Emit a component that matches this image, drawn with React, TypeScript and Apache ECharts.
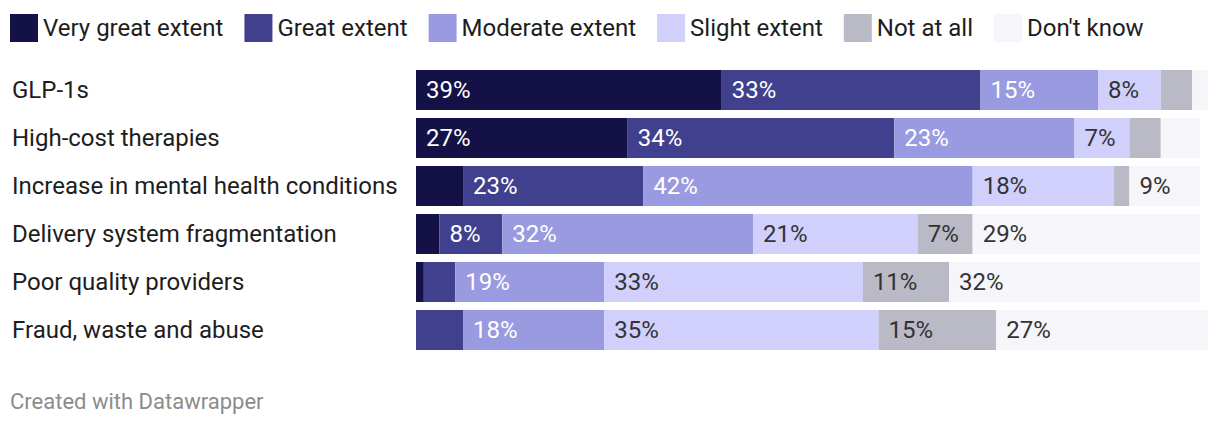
import React, { useEffect, useRef } from "react";
import * as echarts from "echarts";

const categories = [
  "GLP-1s",
  "High-cost therapies",
  "Increase in mental health conditions",
  "Delivery system fragmentation",
  "Poor quality providers",
  "Fraud, waste and abuse",
];

const seriesNames = [
  "Very great extent",
  "Great extent",
  "Moderate extent",
  "Slight extent",
  "Not at all",
  "Don't know",
];

const veryGreat = [39, 27, 6, 3, 1, 0];
const great = [33, 34, 23, 8, 4, 6];
const moderate = [15, 23, 42, 32, 19, 18];
const slight = [8, 7, 18, 21, 33, 35];
const notAtAll = [4, 4, 2, 7, 11, 15];
const dontKnow = [2, 5, 9, 29, 32, 27];

const seriesValues = [veryGreat, great, moderate, slight, notAtAll, dontKnow];

const colors = ["#141146", "#41408f", "#9a9ae0", "#d1cffb", "#bab9c6", "#f5f5fa"];
const labelColors = ["#ffffff", "#ffffff", "#ffffff", "#333333", "#333333", "#333333"];

const FONT = "Roboto";

export default function App() {
  const ref = useRef<HTMLDivElement>(null);

  useEffect(() => {
    if (!ref.current) return;
    const chart = echarts.init(ref.current, undefined, { renderer: "svg" });
    chart.setOption({
      animation: false,
      textStyle: { fontFamily: FONT },
      legend: {
        top: 14,
        left: 10,
        padding: 0,
        itemWidth: 28,
        itemHeight: 28,
        itemGap: 21,
        icon: "rect",
        selectedMode: false,
        textStyle: { fontSize: 24, color: "#1d1d1d", fontFamily: FONT },
        data: seriesNames,
      },
      grid: { left: 416, right: 20, top: 66, height: 288, containLabel: false },
      xAxis: {
        type: "value",
        min: 0,
        max: 100,
        show: false,
      },
      yAxis: {
        type: "category",
        data: categories,
        inverse: true,
        axisLine: { show: false },
        axisTick: { show: false },
        splitLine: { show: false },
        axisLabel: {
          align: "left",
          margin: 404,
          fontSize: 24,
          color: "#1d1d1d",
          fontFamily: FONT,
          padding: [0, 0, 2, 0],
        },
      },
      series: seriesNames.map((name, i) => ({
        name,
        type: "bar",
        stack: "total",
        barWidth: 40,
        clip: false,
        data: seriesValues[i],
        itemStyle: { color: colors[i] },
        emphasis: { disabled: true },
        label: {
          show: true,
          position: "insideLeft",
          distance: 10,
          fontSize: 24,
          fontFamily: FONT,
          color: labelColors[i],
          formatter: (p: any) => (p.value >= 7 ? p.value + "%" : ""),
        },
      })),
      graphic: [
        {
          type: "text",
          left: 10,
          top: 390,
          style: {
            text: "Created with Datawrapper",
            fontSize: 22,
            fontFamily: FONT,
            fill: "#8c8c8c",
          },
        },
      ],
    });
    return () => chart.dispose();
  }, []);

  return (
    <div
      ref={ref}
      style={{ position: "absolute", left: 0, top: 0, width: 1220, height: 426, background: "#fff" }}
    />
  );
}
